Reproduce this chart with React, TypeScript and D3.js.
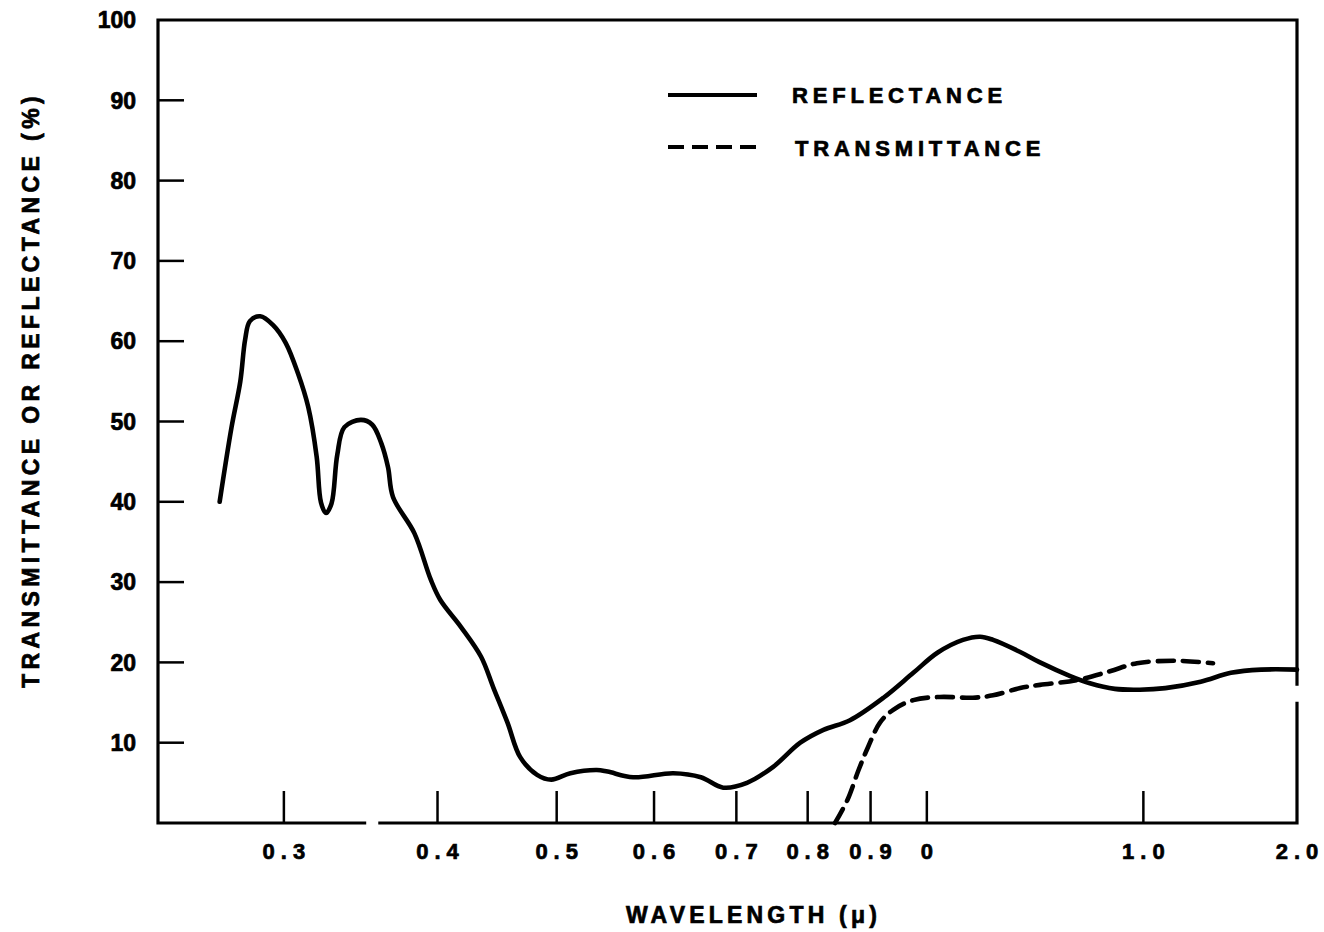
import React from 'react';
import * as d3 from 'd3';

// wavelength (micron) vs percent
const reflectance: [number, number][] = [
  [0.266, 40.0], [0.272, 49.3], [0.2765, 55.0], [0.279, 60.2], [0.2815, 62.5],
  [0.287, 63.1], [0.294, 62.0], [0.301, 59.8], [0.308, 56.0], [0.314, 51.8],
  [0.319, 45.6], [0.3216, 39.9], [0.3246, 38.6], [0.328, 39.8], [0.3315, 45.8],
  [0.336, 49.3], [0.3465, 50.2], [0.354, 49.6], [0.36, 47.3], [0.3646, 44.3],
  [0.368, 40.6], [0.383, 36.1], [0.395, 30.3], [0.402, 27.8], [0.418, 24.4],
  [0.434, 20.7], [0.444, 16.9], [0.456, 12.5], [0.467, 8.2], [0.482, 6.0],
  [0.495, 5.4], [0.513, 6.2], [0.539, 6.6], [0.55, 6.4], [0.577, 5.7],
  [0.622, 6.2], [0.655, 5.7], [0.683, 4.4], [0.714, 5.0], [0.75, 7.0],
  [0.789, 10.0], [0.824, 11.6], [0.866, 12.8], [0.922, 15.6], [0.975, 18.7],
  [1.02, 21.2], [1.07, 22.8], [1.105, 23.2], [1.132, 22.8], [1.191, 21.3],
  [1.236, 20.0], [1.308, 18.3], [1.357, 17.4], [1.422, 16.7], [1.49, 16.6],
  [1.563, 16.8], [1.67, 17.6], [1.767, 18.7], [1.87, 19.1], [2.0, 19.1],
];

const transmittance: [number, number][] = [
  [0.842, 0], [0.862, 2.9], [0.88, 6.6], [0.896, 9.5], [0.916, 12.5],
  [0.939, 14.1], [0.975, 15.3], [1.025, 15.7], [1.09, 15.6], [1.132, 15.9],
  [1.191, 16.8], [1.236, 17.2], [1.325, 17.8], [1.409, 18.9], [1.482, 19.9],
  [1.591, 20.2], [1.709, 19.9],
];

const xTickValues = [0.3, 0.4, 0.5, 0.6, 0.7, 0.8, 0.9, 1.0, 1.5, 2.0];
const xTickLabels = ['0.3', '0.4', '0.5', '0.6', '0.7', '0.8', '0.9', '0', '1.0', '2.0'];
const yTickValues = [10, 20, 30, 40, 50, 60, 70, 80, 90, 100];

const W = 1324;
const H = 932;
const margin = { top: 20, right: 27, bottom: 109, left: 158 };
const FONT = '"Liberation Sans", Arial, sans-serif';

const App: React.FC = () => {
  const x = d3.scaleLog().domain([0.237, 2.0]).range([margin.left, W - margin.right]);
  const y = d3.scaleLinear().domain([0, 100]).range([H - margin.bottom, margin.top]);

  const line = d3.line<[number, number]>()
    .x(d => x(d[0]))
    .y(d => y(d[1]))
    .curve(d3.curveCatmullRom.alpha(0.5));

  const x0 = x.range()[0], x1 = x.range()[1];
  const y0 = y.range()[0], y1 = y.range()[1];

  // frame, with the small breaks seen in the original drawing
  const frame = [
    `M${x0},${y0 - 1}V${y(9.7)}`,
    `M${x0},${y(7.6)}V${y0}H${x(0.35)}`,
    `M${x(0.358)},${y0}H${x1}V${y(15.1)}`,
    `M${x1},${y(17.1)}V${y1}H${x0}V${y(9.7)}`,
  ].join('');

  const tickLen = 32;
  const ink = { stroke: '#000', strokeWidth: 0.7 };

  return (
    <svg width={W} height={H} style={{ position: 'absolute', left: 0, top: 0, background: '#fff' }}
      fontFamily={FONT} fontWeight="bold">
      <path d={frame} fill="none" stroke="#000" strokeWidth={3.2} />

      {yTickValues.filter(v => v < 100).map(v => (
        <line key={v} x1={x0} x2={x0 + 26} y1={y(v)} y2={y(v)} stroke="#000" strokeWidth={2.5} />
      ))}
      {yTickValues.map(v => (
        <text key={v} x={136} y={y(v)} dy="0.36em" textAnchor="end" fontSize={23} {...ink}>{v}</text>
      ))}

      {xTickValues.map((v, i) => (
        <g key={v}>
          {v < 2 && (
            <line x1={x(v)} x2={x(v)} y1={y0} y2={y0 - tickLen} stroke="#000" strokeWidth={2.5} />
          )}
          <text x={x(v) + 3} y={y0 + 36} textAnchor="middle" fontSize={22} letterSpacing={6} {...ink}>
            {xTickLabels[i]}
          </text>
        </g>
      ))}

      <path d={line(reflectance) || ''} fill="none" stroke="#000" strokeWidth={4.6}
        strokeLinejoin="round" strokeLinecap="round" />
      <path d={line(transmittance) || ''} fill="none" stroke="#000" strokeWidth={4.6}
        strokeDasharray="16 9" strokeLinecap="round" />

      <g>
        <line x1={668} x2={757} y1={95} y2={95} stroke="#000" strokeWidth={4} />
        <text x={792} y={103} fontSize={22} letterSpacing={4.8} {...ink}>REFLECTANCE</text>
        <line x1={668} x2={757} y1={147} y2={147} stroke="#000" strokeWidth={4} strokeDasharray="16 8" />
        <text x={795} y={156} fontSize={22} letterSpacing={4.8} {...ink}>TRANSMITTANCE</text>
      </g>

      <text x={(x0 + x1) / 2 + 26} y={923} textAnchor="middle" fontSize={23} letterSpacing={4.2} {...ink}>
        WAVELENGTH (μ)
      </text>
      <text transform={`translate(31,${390}) rotate(-90)`} textAnchor="middle" dy="0.36em"
        fontSize={23} letterSpacing={4.4} {...ink}>
        TRANSMITTANCE OR REFLECTANCE (%)
      </text>
    </svg>
  );
};

export default App;
